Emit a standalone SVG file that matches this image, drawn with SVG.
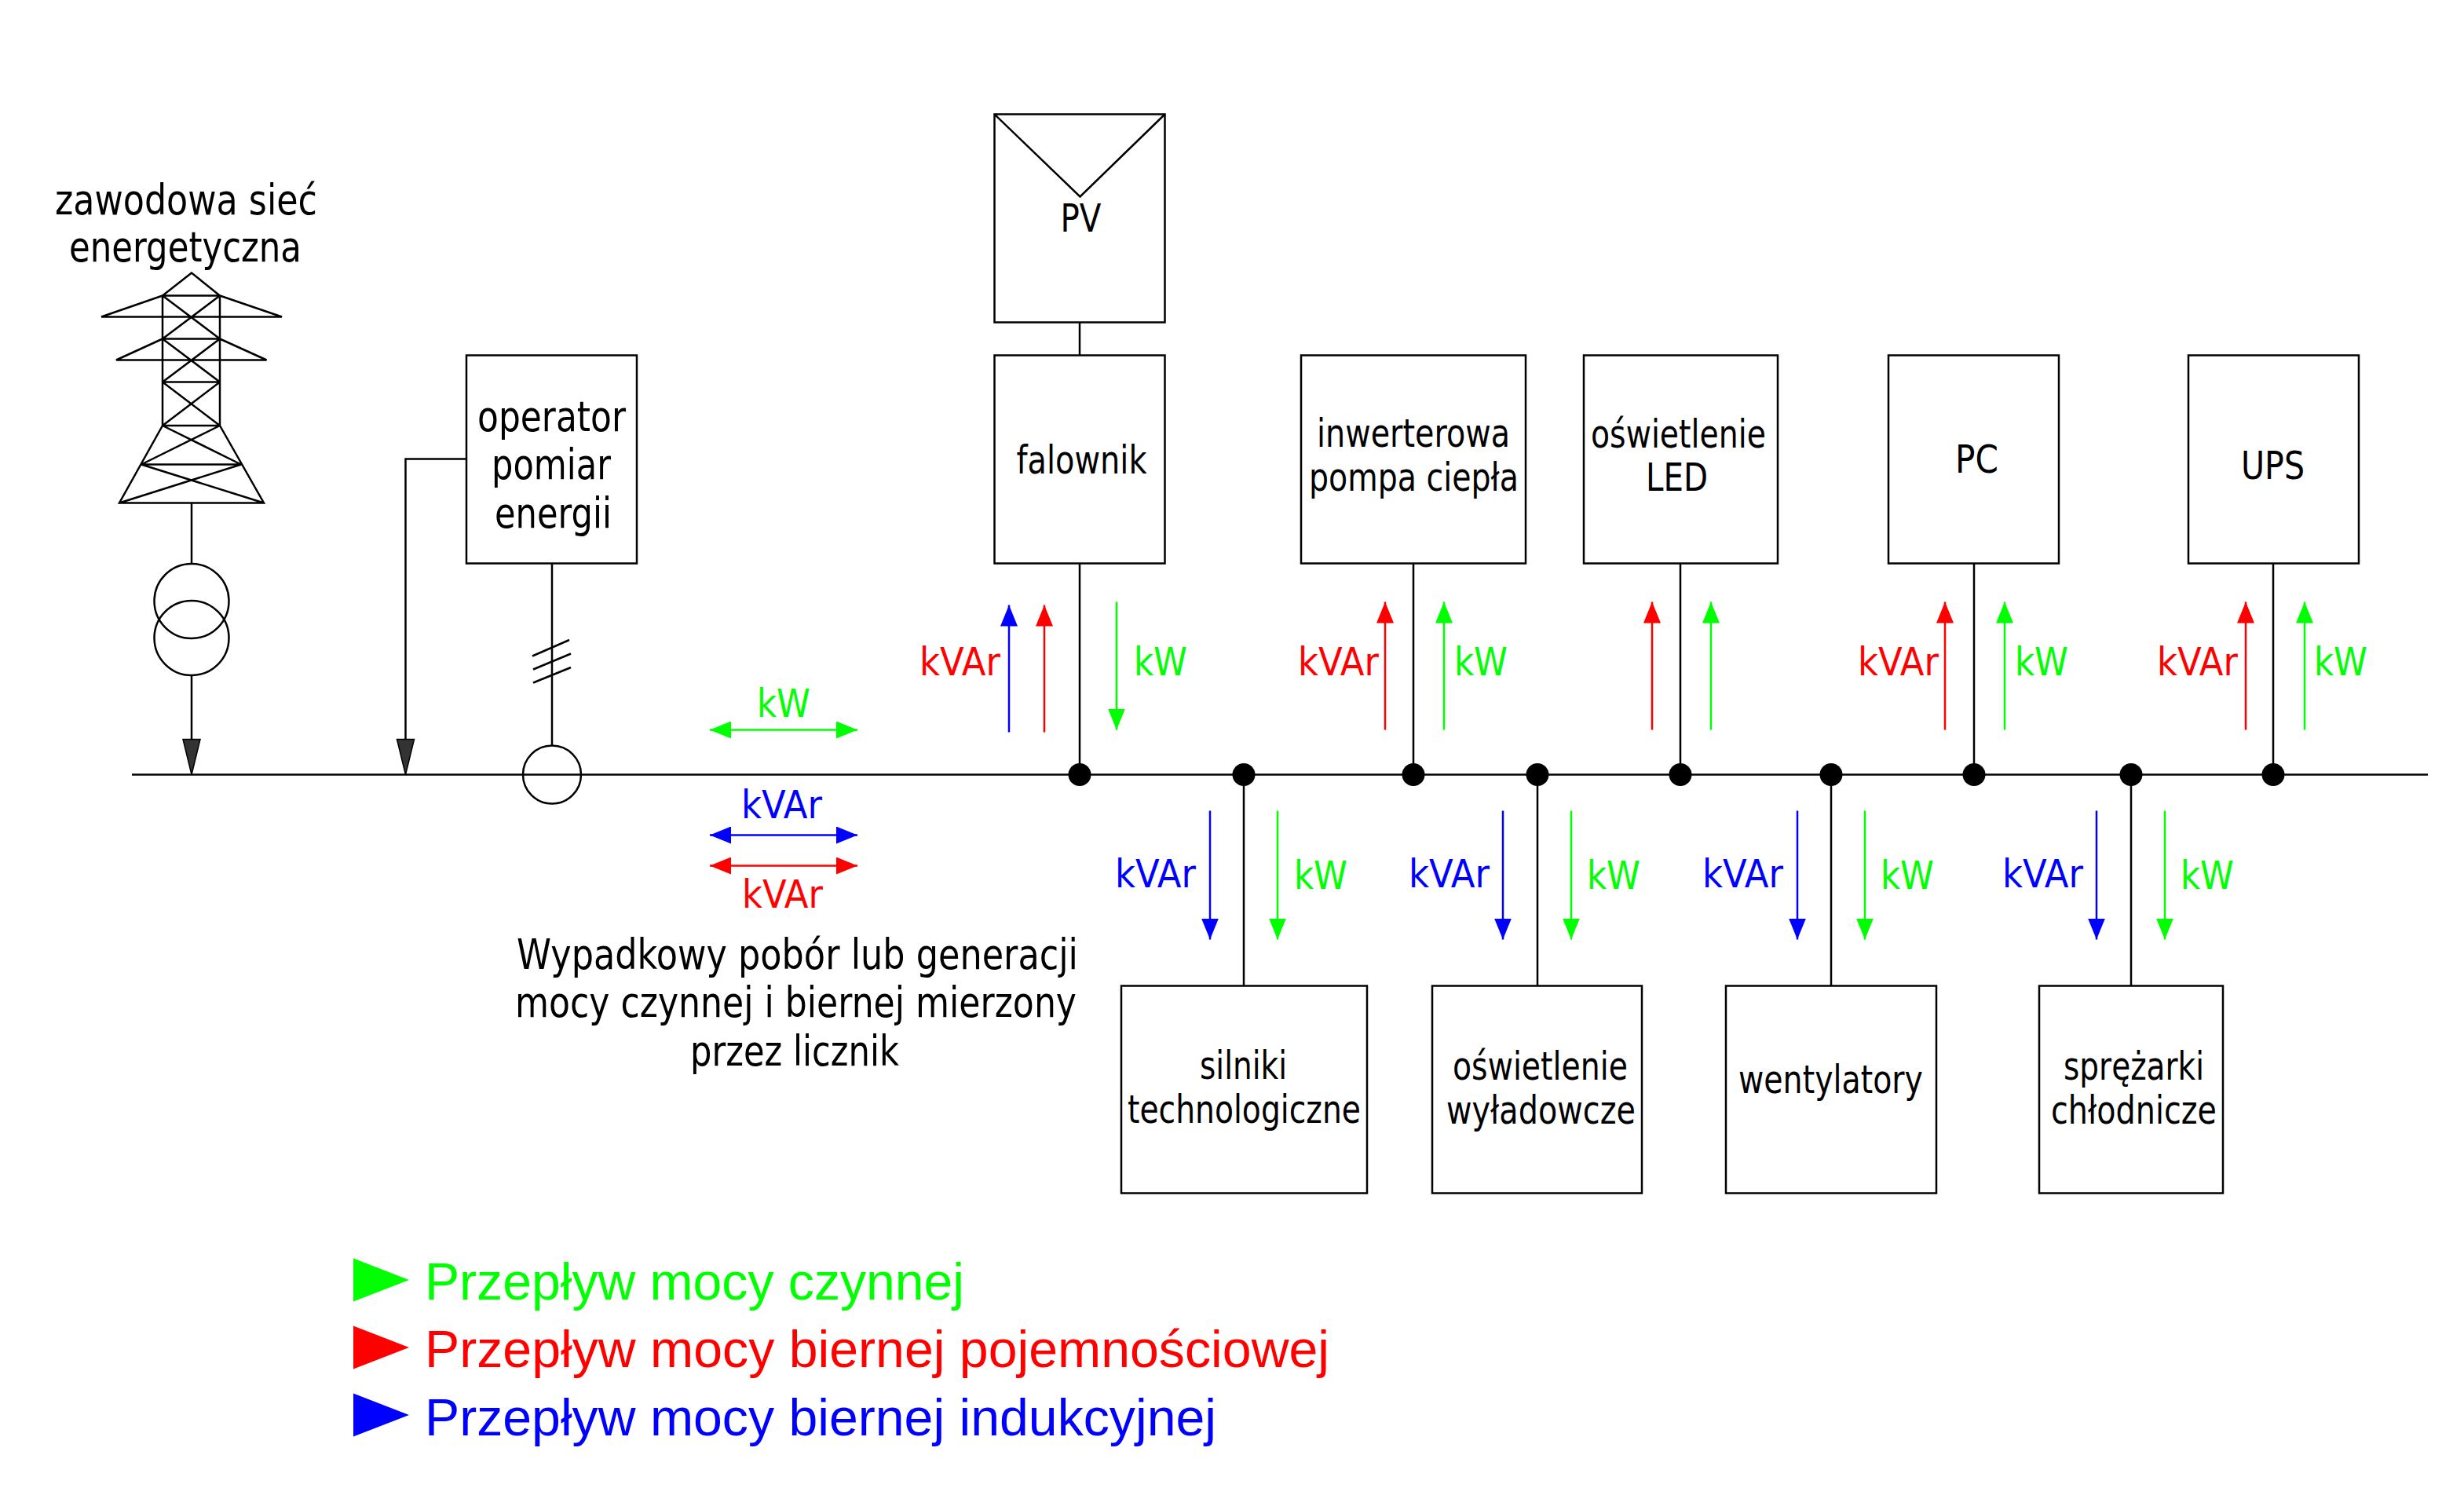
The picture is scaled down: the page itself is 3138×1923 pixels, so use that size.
<svg xmlns="http://www.w3.org/2000/svg" width="3138" height="1923" viewBox="0 0 3138 1923">
<style>
text{font-family:"DejaVu Sans","Liberation Sans",sans-serif;fill:#000}
.b{font-size:54px}.m{font-size:50px}
.l{font-family:"Liberation Sans",Arial,sans-serif;font-size:66px}
.r{fill:#f00}.g{fill:#0f0}.u{fill:#00f}
.box{fill:#fff;stroke:#000;stroke-width:2.5}
line,path.w,polyline{stroke:#000;stroke-width:2.5;fill:none}
line.sr{stroke:#f00}line.sg{stroke:#0f0}line.su{stroke:#00f}
</style>
<defs>
<marker id="ar" markerUnits="userSpaceOnUse" markerWidth="28" markerHeight="22" refX="27" refY="11" orient="auto-start-reverse"><path d="M0 0L27 11L0 22z" fill="#f00"/></marker>
<marker id="ag" markerUnits="userSpaceOnUse" markerWidth="28" markerHeight="22" refX="27" refY="11" orient="auto-start-reverse"><path d="M0 0L27 11L0 22z" fill="#0f0"/></marker>
<marker id="au" markerUnits="userSpaceOnUse" markerWidth="28" markerHeight="22" refX="27" refY="11" orient="auto-start-reverse"><path d="M0 0L27 11L0 22z" fill="#00f"/></marker>
</defs>
<rect width="3138" height="1923" fill="#fff"/>
<g transform="translate(0,1.5)">
<g id="connectors">
<line x1="168" y1="985" x2="3092" y2="985"/>
<line x1="244" y1="639" x2="244" y2="717"/>
<line x1="244" y1="858" x2="244" y2="945"/>
<polyline points="594,583 516.5,583 516.5,945"/>
<line x1="703" y1="716" x2="703" y2="948"/>
<line x1="678" y1="834" x2="725" y2="813.5"/>
<line x1="679" y1="851" x2="727" y2="831"/>
<line x1="679" y1="868" x2="727" y2="848.5"/>
<line x1="1375" y1="409" x2="1375" y2="451"/>
<line x1="1375" y1="716" x2="1375" y2="985"/>
<line x1="1800" y1="716" x2="1800" y2="985"/>
<line x1="2140" y1="716" x2="2140" y2="985"/>
<line x1="2514" y1="716" x2="2514" y2="985"/>
<line x1="2895" y1="716" x2="2895" y2="985"/>
<line x1="1584" y1="985" x2="1584" y2="1254"/>
<line x1="1958" y1="985" x2="1958" y2="1254"/>
<line x1="2332" y1="985" x2="2332" y2="1254"/>
<line x1="2714" y1="985" x2="2714" y2="1254"/>
<path d="M244 985L233 940H255z" fill="#333" stroke="#000" stroke-width="1.5"/>
<path d="M516.5 985L505.5 940H527.5z" fill="#333" stroke="#000" stroke-width="1.5"/>
<g fill="#000">
<circle cx="1375" cy="985" r="14.5"/><circle cx="1584" cy="985" r="14.5"/><circle cx="1800" cy="985" r="14.5"/><circle cx="1958" cy="985" r="14.5"/><circle cx="2140" cy="985" r="14.5"/><circle cx="2332" cy="985" r="14.5"/><circle cx="2514" cy="985" r="14.5"/><circle cx="2714" cy="985" r="14.5"/><circle cx="2895" cy="985" r="14.5"/>
</g>
<g>
<line class="su" x1="1285" y1="931" x2="1285" y2="769" marker-end="url(#au)"/>
<line class="sr" x1="1330" y1="931" x2="1330" y2="769" marker-end="url(#ar)"/>
<line class="sg" x1="1422" y1="765" x2="1422" y2="928" marker-end="url(#ag)"/>
<line class="sr" x1="1764" y1="928" x2="1764" y2="765" marker-end="url(#ar)"/>
<line class="sg" x1="1839" y1="928" x2="1839" y2="765" marker-end="url(#ag)"/>
<line class="sr" x1="2104" y1="928" x2="2104" y2="765" marker-end="url(#ar)"/>
<line class="sg" x1="2179" y1="928" x2="2179" y2="765" marker-end="url(#ag)"/>
<line class="sr" x1="2477" y1="928" x2="2477" y2="765" marker-end="url(#ar)"/>
<line class="sg" x1="2553" y1="928" x2="2553" y2="765" marker-end="url(#ag)"/>
<line class="sr" x1="2860" y1="928" x2="2860" y2="765" marker-end="url(#ar)"/>
<line class="sg" x1="2935" y1="928" x2="2935" y2="765" marker-end="url(#ag)"/>
<line class="su" x1="1541" y1="1031" x2="1541" y2="1195" marker-end="url(#au)"/>
<line class="sg" x1="1627" y1="1031" x2="1627" y2="1195" marker-end="url(#ag)"/>
<line class="su" x1="1914" y1="1031" x2="1914" y2="1195" marker-end="url(#au)"/>
<line class="sg" x1="2001" y1="1031" x2="2001" y2="1195" marker-end="url(#ag)"/>
<line class="su" x1="2289" y1="1031" x2="2289" y2="1195" marker-end="url(#au)"/>
<line class="sg" x1="2375" y1="1031" x2="2375" y2="1195" marker-end="url(#ag)"/>
<line class="su" x1="2670" y1="1031" x2="2670" y2="1195" marker-end="url(#au)"/>
<line class="sg" x1="2757" y1="1031" x2="2757" y2="1195" marker-end="url(#ag)"/>
<line class="sg" x1="904" y1="928" x2="1092" y2="928" marker-start="url(#ag)" marker-end="url(#ag)"/>
<line class="su" x1="904" y1="1062" x2="1092" y2="1062" marker-start="url(#au)" marker-end="url(#au)"/>
<line class="sr" x1="904" y1="1101" x2="1092" y2="1101" marker-start="url(#ar)" marker-end="url(#ar)"/>
</g>
</g>
<g id="grid">
<text class="b" x="70" y="271" textLength="334" lengthAdjust="spacingAndGlyphs">zawodowa sieć</text>
<text class="b" x="88" y="331" textLength="296" lengthAdjust="spacingAndGlyphs">energetyczna</text>
<path class="w" d="M244 346L207 375H280ZM207 375V540.5M280 375V540.5M207 375L129 402H359L280 375M207 430H280M207 430L148 457H339.5L280 430M207 485H280M207 540.5H280M207 375L280 430M280 375L207 430M207 430L280 485M280 430L207 485M207 485L280 540.5M280 485L207 540.5M207 540.5L152 639H336L280 540.5M180 590H307M207 540.5L307 590M280 540.5L180 590M180 590L336 639M307 590L152 639"/>
<circle cx="244" cy="764" r="47.5" fill="none" stroke="#000" stroke-width="2.5"/>
<circle cx="244" cy="811" r="47.5" fill="none" stroke="#000" stroke-width="2.5"/>
</g>
<g id="meter">
<circle cx="703" cy="985" r="37" fill="none" stroke="#000" stroke-width="2.5"/>
</g>
<g id="operator">
<rect class="box" x="594" y="451" width="217" height="265"/>
<text class="b" x="608" y="547" textLength="189" lengthAdjust="spacingAndGlyphs">operator</text>
<text class="b" x="626" y="608" textLength="152" lengthAdjust="spacingAndGlyphs">pomiar</text>
<text class="b" x="630" y="670" textLength="149" lengthAdjust="spacingAndGlyphs">energii</text>
</g>
<g id="pv" transform="translate(0.5,0)">
<rect class="box" x="1266" y="144" width="217" height="265"/>
<path class="w" d="M1266 144L1375 249L1483 144"/>
<text class="m" x="1350" y="293" textLength="52" lengthAdjust="spacingAndGlyphs">PV</text>
</g>
<g id="falownik" transform="translate(0.5,0)">
<rect class="box" x="1266" y="451" width="217" height="265"/>
<text class="m" x="1294" y="601" textLength="166" lengthAdjust="spacingAndGlyphs">falownik</text>
</g>
<g id="pompa">
<rect class="box" x="1657" y="451" width="286" height="265"/>
<text class="m" x="1677" y="567" textLength="246" lengthAdjust="spacingAndGlyphs">inwerterowa</text>
<text class="m" x="1667" y="623" textLength="267" lengthAdjust="spacingAndGlyphs">pompa ciepła</text>
</g>
<g id="led" transform="translate(2,0)">
<rect class="box" x="2015" y="451" width="247" height="265"/>
<text class="m" x="2024" y="568" textLength="223" lengthAdjust="spacingAndGlyphs">oświetlenie</text>
<text class="m" x="2094" y="623" textLength="79" lengthAdjust="spacingAndGlyphs">LED</text>
</g>
<g id="pc" transform="translate(2,0)">
<rect class="box" x="2403" y="451" width="217" height="265"/>
<text class="m" x="2488" y="600" textLength="55" lengthAdjust="spacingAndGlyphs">PC</text>
</g>
<g id="ups" transform="translate(2,0)">
<rect class="box" x="2785" y="451" width="217" height="265"/>
<text class="m" x="2852" y="608" textLength="81" lengthAdjust="spacingAndGlyphs">UPS</text>
</g>
<g id="silniki" transform="translate(2,0)">
<rect class="box" x="1426" y="1254" width="313" height="264"/>
<text class="m" x="1526" y="1372" textLength="111" lengthAdjust="spacingAndGlyphs">silniki</text>
<text class="m" x="1434" y="1428" textLength="297" lengthAdjust="spacingAndGlyphs">technologiczne</text>
</g>
<g id="wyladowcze" transform="translate(1,0)">
<rect class="box" x="1823" y="1254" width="267" height="264"/>
<text class="m" x="1849" y="1373" textLength="223" lengthAdjust="spacingAndGlyphs">oświetlenie</text>
<text class="m" x="1841" y="1429" textLength="241" lengthAdjust="spacingAndGlyphs">wyładowcze</text>
</g>
<g id="wentylatory" transform="translate(2,0)">
<rect class="box" x="2196" y="1254" width="268" height="264"/>
<text class="m" x="2212" y="1390" textLength="235" lengthAdjust="spacingAndGlyphs">wentylatory</text>
</g>
<g id="sprezarki" transform="translate(2,0)">
<rect class="box" x="2595" y="1254" width="234" height="264"/>
<text class="m" x="2626" y="1373" textLength="179" lengthAdjust="spacingAndGlyphs">sprężarki</text>
<text class="m" x="2610" y="1429" textLength="211" lengthAdjust="spacingAndGlyphs">chłodnicze</text>
</g>
<g id="labels">
<text class="m r" x="1171" y="858" textLength="103" lengthAdjust="spacingAndGlyphs">kVAr</text>
<text class="m g" x="1444" y="858" textLength="68" lengthAdjust="spacingAndGlyphs">kW</text>
<text class="m r" x="1653" y="858" textLength="103" lengthAdjust="spacingAndGlyphs">kVAr</text>
<text class="m g" x="1852" y="858" textLength="68" lengthAdjust="spacingAndGlyphs">kW</text>
<text class="m r" x="2366" y="858" textLength="103" lengthAdjust="spacingAndGlyphs">kVAr</text>
<text class="m g" x="2566" y="858" textLength="68" lengthAdjust="spacingAndGlyphs">kW</text>
<text class="m r" x="2747" y="858" textLength="103" lengthAdjust="spacingAndGlyphs">kVAr</text>
<text class="m g" x="2947" y="858" textLength="68" lengthAdjust="spacingAndGlyphs">kW</text>
<text class="m u" x="1420" y="1128" textLength="103" lengthAdjust="spacingAndGlyphs">kVAr</text>
<text class="m g" x="1648" y="1130" textLength="68" lengthAdjust="spacingAndGlyphs">kW</text>
<text class="m u" x="1794" y="1128" textLength="103" lengthAdjust="spacingAndGlyphs">kVAr</text>
<text class="m g" x="2021" y="1130" textLength="68" lengthAdjust="spacingAndGlyphs">kW</text>
<text class="m u" x="2168" y="1128" textLength="103" lengthAdjust="spacingAndGlyphs">kVAr</text>
<text class="m g" x="2395" y="1130" textLength="68" lengthAdjust="spacingAndGlyphs">kW</text>
<text class="m u" x="2550" y="1128" textLength="103" lengthAdjust="spacingAndGlyphs">kVAr</text>
<text class="m g" x="2777" y="1130" textLength="68" lengthAdjust="spacingAndGlyphs">kW</text>
<text class="m g" x="964" y="911" textLength="68" lengthAdjust="spacingAndGlyphs">kW</text>
<text class="m u" x="944" y="1040" textLength="103" lengthAdjust="spacingAndGlyphs">kVAr</text>
<text class="m r" x="945" y="1154" textLength="103" lengthAdjust="spacingAndGlyphs">kVAr</text>
<text class="b" x="658" y="1232" textLength="715" lengthAdjust="spacingAndGlyphs">Wypadkowy pobór lub generacji</text>
<text class="b" x="656" y="1293" textLength="715" lengthAdjust="spacingAndGlyphs">mocy czynnej i biernej mierzony</text>
<text class="b" x="879" y="1355" textLength="266" lengthAdjust="spacingAndGlyphs">przez licznik</text>
</g>
<g id="legend">
<path d="M450 1601L521 1628.5L450 1656z" fill="#0f0"/>
<path d="M450 1687L521 1714.5L450 1742z" fill="#f00"/>
<path d="M450 1773L521 1800.5L450 1828z" fill="#00f"/>
<text class="l g" x="541" y="1653" textLength="687" lengthAdjust="spacingAndGlyphs">Przepływ mocy czynnej</text>
<text class="l r" x="541" y="1739" textLength="1152" lengthAdjust="spacingAndGlyphs">Przepływ mocy biernej pojemnościowej</text>
<text class="l u" x="541" y="1826" textLength="1008" lengthAdjust="spacingAndGlyphs">Przepływ mocy biernej indukcyjnej</text>
</g>
</g>
</svg>
